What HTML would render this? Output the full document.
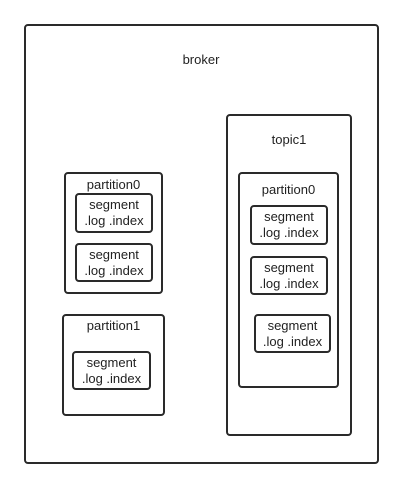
<!DOCTYPE html>
<html><head><style>
body{margin:0;width:403px;height:488px;background:#fff;position:relative;font-family:"Liberation Sans",sans-serif;color:#222;font-size:13px}
.b{position:absolute;border:2px solid #2a2a2a;border-radius:4px;box-sizing:border-box}
.s{position:absolute;border:2px solid #2a2a2a;border-radius:4px;box-sizing:border-box;text-align:center;line-height:16px;padding-top:2px}
.t{position:absolute;text-align:center}
</style></head><body>
<div class="b" style="left:24px;top:24px;width:355px;height:440px"></div>
<div class="t" style="left:150px;width:102px;top:52px">broker</div>

<div class="b" style="left:64px;top:172px;width:99px;height:122px"></div>
<div class="t" style="left:64px;width:99px;top:177px">partition0</div>
<div class="s" style="left:75px;top:193px;width:78px;height:40px">segment<br>.log .index</div>
<div class="s" style="left:75px;top:243px;width:78px;height:39px">segment<br>.log .index</div>

<div class="b" style="left:62px;top:314px;width:103px;height:102px"></div>
<div class="t" style="left:62px;width:103px;top:318px">partition1</div>
<div class="s" style="left:72px;top:351px;width:79px;height:39px">segment<br>.log .index</div>

<div class="b" style="left:226px;top:114px;width:126px;height:322px"></div>
<div class="t" style="left:226px;width:126px;top:132px">topic1</div>
<div class="b" style="left:238px;top:172px;width:101px;height:216px"></div>
<div class="t" style="left:238px;width:101px;top:182px">partition0</div>
<div class="s" style="left:250px;top:205px;width:78px;height:40px">segment<br>.log .index</div>
<div class="s" style="left:250px;top:256px;width:78px;height:39px">segment<br>.log .index</div>
<div class="s" style="left:254px;top:314px;width:77px;height:39px">segment<br>.log .index</div>
</body></html>
